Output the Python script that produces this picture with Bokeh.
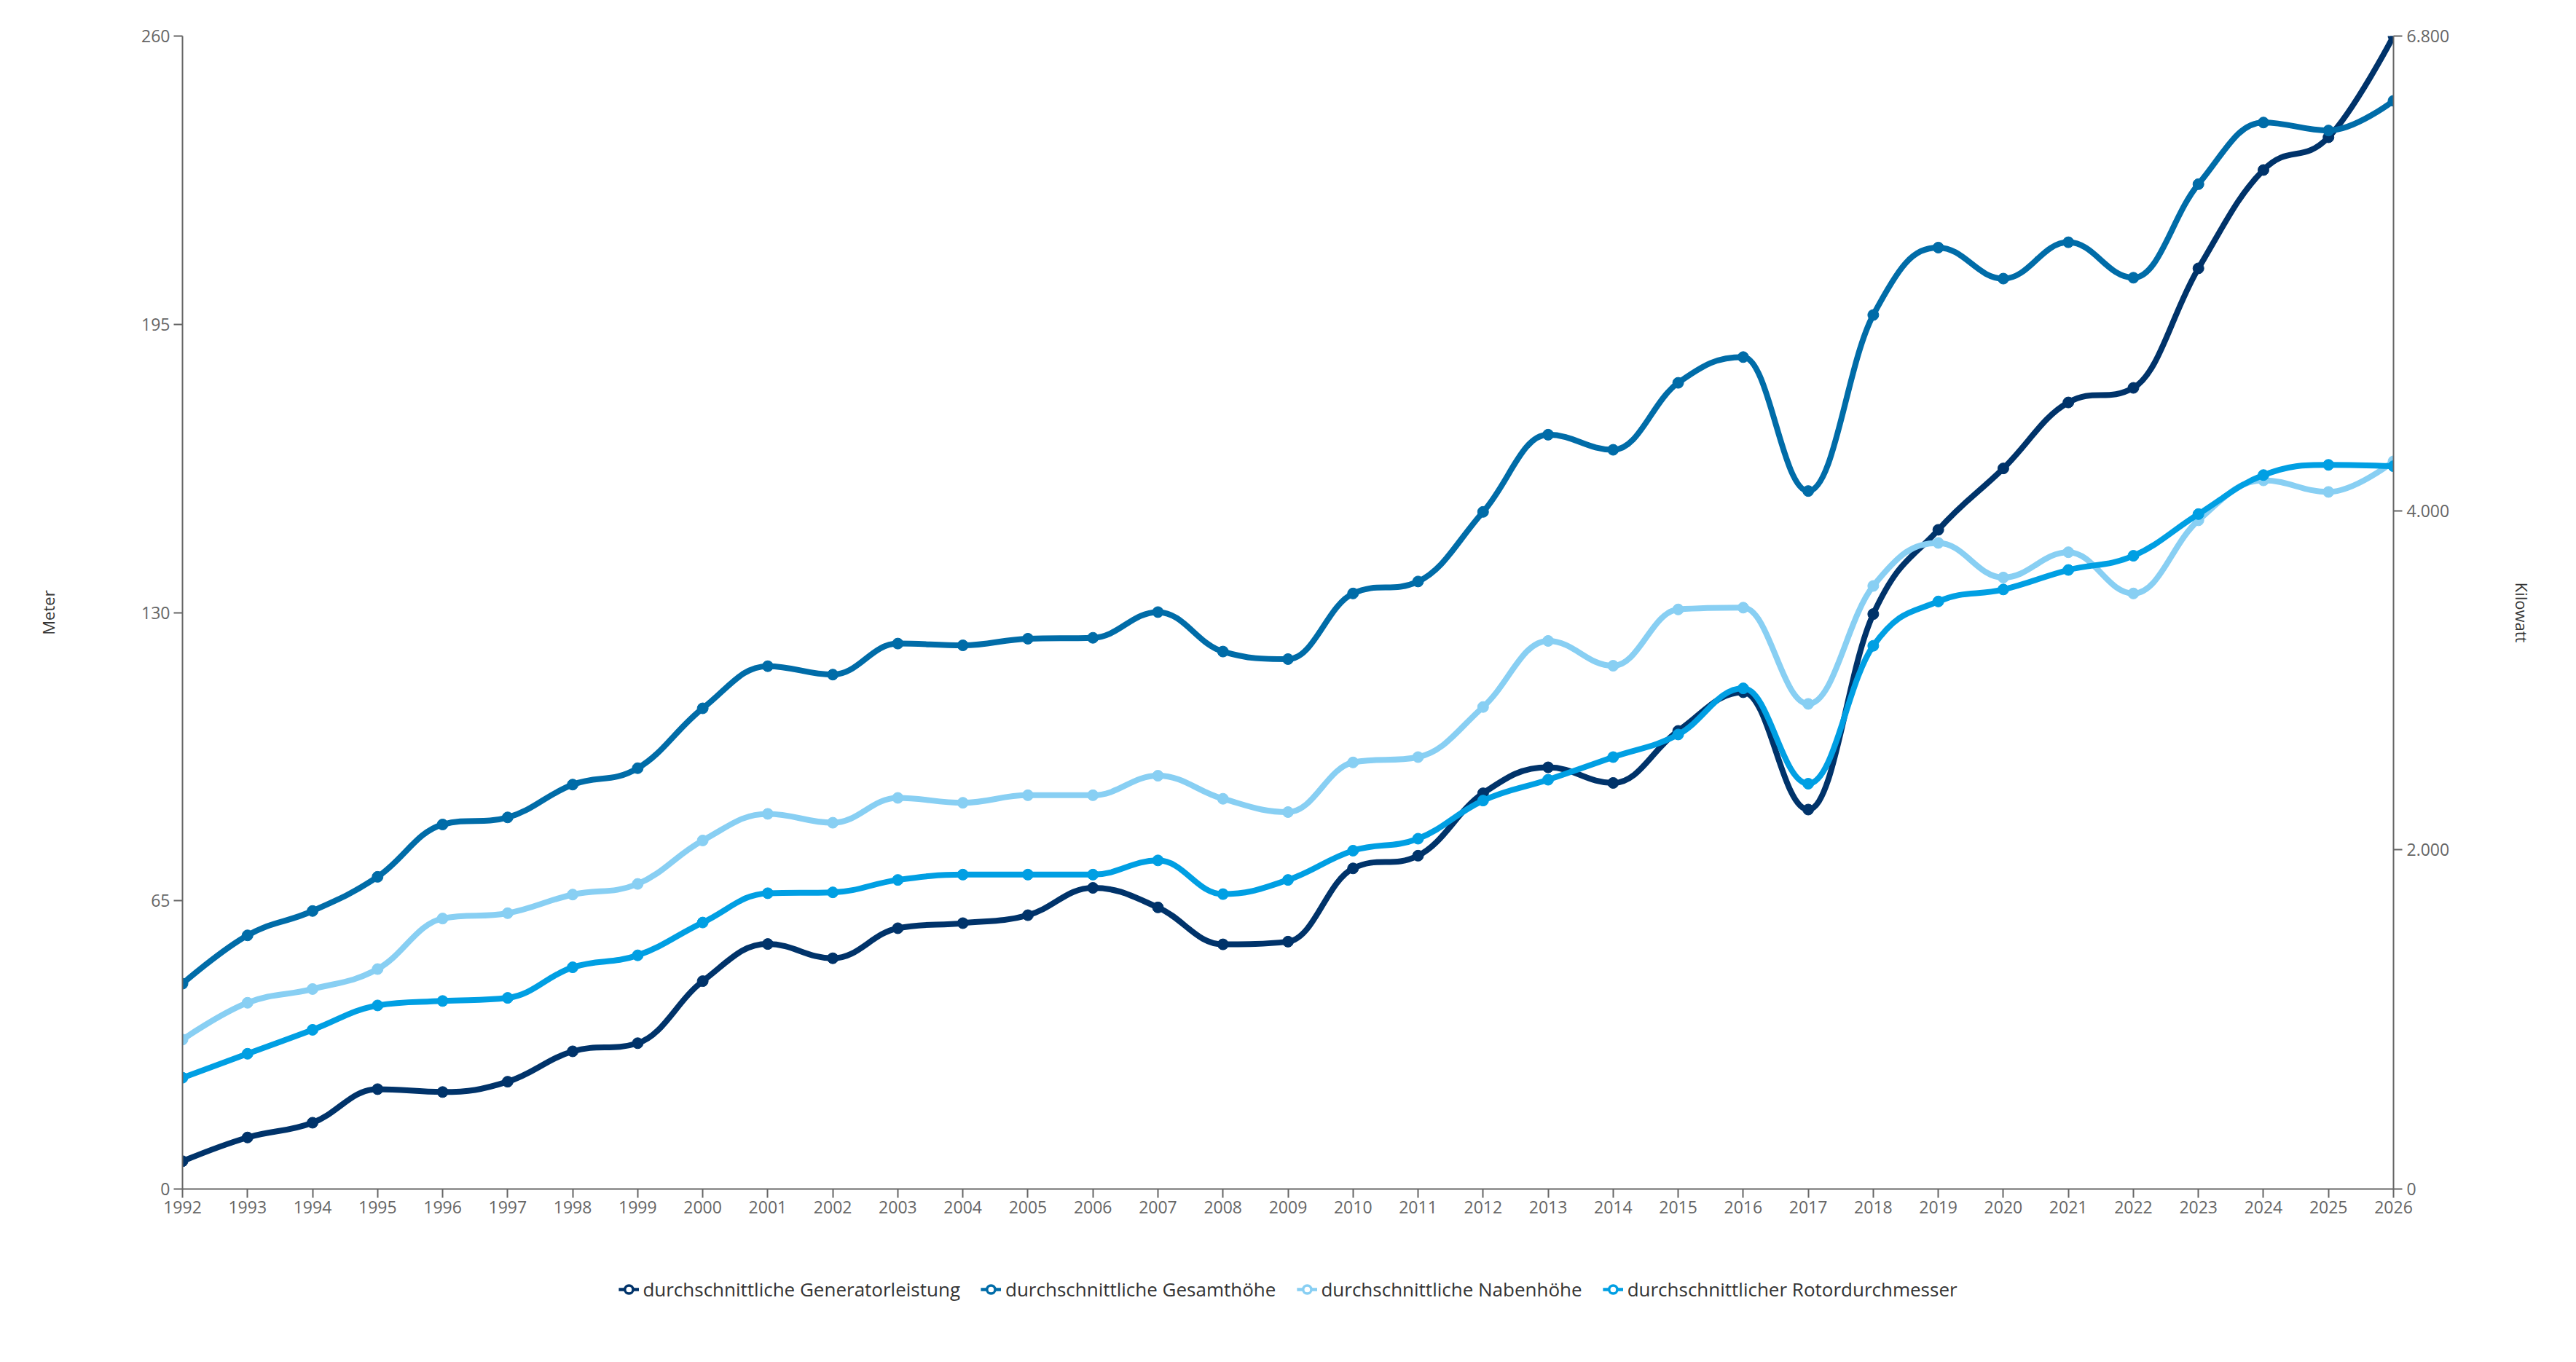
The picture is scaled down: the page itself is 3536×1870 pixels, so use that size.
from bokeh.plotting import figure
from bokeh.layouts import column
from bokeh.models import (LinearAxis, Range1d, FixedTicker, Legend, LegendItem,
                          ColumnDataSource)
from bokeh.embed import file_html
from bokeh.resources import INLINE

years = list(range(1992, 2027))

generatorleistung_kw = [164, 304, 391, 589, 572, 633, 812, 860, 1226, 1445, 1361, 1538,
                        1568, 1615, 1776, 1661, 1443, 1459, 1891, 1966, 2334, 2487, 2395,
                        2702, 2930, 2238, 3391, 3888, 4250, 4639, 4725, 5430, 6010, 6203, 6800]

gesamthoehe_m = [46.3, 57.2, 62.7, 70.4, 82.2, 83.8, 91.2, 94.9, 108.4, 117.9, 116.0, 123.0,
                 122.6, 124.1, 124.3, 130.1, 121.2, 119.5, 134.3, 137.0, 152.7, 170.1, 166.7,
                 181.8, 187.6, 157.4, 197.1, 212.3, 205.3, 213.5, 205.5, 226.6, 240.5, 238.7, 245.4]

nabenhoehe_m = [33.7, 42.0, 45.1, 49.6, 61.0, 62.2, 66.4, 68.8, 78.6, 84.6, 82.6, 88.2,
                87.1, 88.8, 88.8, 93.2, 88.0, 85.0, 96.2, 97.4, 108.7, 123.6, 118.0,
                130.7, 131.1, 109.4, 136.0, 145.7, 137.9, 143.6, 134.3, 150.8, 159.8, 157.2, 164.1]

rotordurchmesser_m = [25.1, 30.5, 35.9, 41.4, 42.4, 43.1, 50.0, 52.7, 60.1, 66.7, 66.9, 69.7,
                      70.9, 70.9, 70.9, 74.1, 66.5, 69.7, 76.3, 79.0, 87.6, 92.3, 97.4,
                      102.5, 112.9, 91.4, 122.5, 132.5, 135.2, 139.6, 142.8, 152.2, 161.0, 163.3, 163.0]

meter_ticks = [0, 65, 130, 195, 260]
kw_ticks = [0, 2000, 4000, 6800]
kw_tick_labels = {0: "0", 2000: "2.000", 4000: "4.000", 6800: "6.800"}

series = [
    ("durchschnittliche Generatorleistung", generatorleistung_kw, "#00336a", "kw"),
    ("durchschnittliche Gesamthöhe", gesamthoehe_m, "#006ca8", "default"),
    ("durchschnittliche Nabenhöhe", nabenhoehe_m, "#88cff3", "default"),
    ("durchschnittlicher Rotordurchmesser", rotordurchmesser_m, "#009fe3", "default"),
]

FONT = "Open Sans"


def spline(xs, ys, sm=1.5):
    n = len(xs)
    lcx, lcy = list(xs), list(ys)
    rcx, rcy = list(xs), list(ys)
    d = sm + 1.0
    for i in range(1, n - 1):
        lx, ly = xs[i - 1], ys[i - 1]
        nx, ny = xs[i + 1], ys[i + 1]
        px, py = xs[i], ys[i]
        Lx = (sm * px + lx) / d
        Ly = (sm * py + ly) / d
        Rx = (sm * px + nx) / d
        Ry = (sm * py + ny) / d
        corr = ((Ry - Ly) * (Rx - px)) / (Rx - Lx) + py - Ry
        Ly += corr
        Ry += corr
        if Ly > ly and Ly > py:
            Ly = max(ly, py)
            Ry = 2 * py - Ly
        elif Ly < ly and Ly < py:
            Ly = min(ly, py)
            Ry = 2 * py - Ly
        if Ry > ny and Ry > py:
            Ry = max(ny, py)
            Ly = 2 * py - Ry
        elif Ry < ny and Ry < py:
            Ry = min(ny, py)
            Ly = 2 * py - Ry
        lcx[i], lcy[i], rcx[i], rcy[i] = Lx, Ly, Rx, Ry
    return dict(x0=xs[:-1], y0=ys[:-1], x1=xs[1:], y1=ys[1:],
                cx0=rcx[:-1], cy0=rcy[:-1], cx1=lcx[1:], cy1=lcy[1:])


# ---------------- main chart ----------------
p = figure(width=3520, height=1692, output_backend="svg", toolbar_location=None,
           x_range=Range1d(1992, 2026), y_range=Range1d(0, 260),
           min_border_left=250, min_border_right=235, min_border_top=49,
           min_border_bottom=60, background_fill_color="white",
           border_fill_color="white")
p.extra_y_ranges = {"kw": Range1d(0, 6800)}
p.outline_line_color = None

p.xgrid.visible = False
p.ygrid.ticker = FixedTicker(ticks=[260])
p.ygrid.grid_line_color = "#eeeeee"
p.ygrid.grid_line_width = 2


def style_axis(ax):
    ax.axis_line_color = "#666666"
    ax.axis_line_width = 2
    ax.major_tick_line_color = "#666666"
    ax.major_tick_line_width = 2
    ax.major_tick_out = 12
    ax.major_tick_in = 0
    ax.minor_tick_line_color = None
    ax.major_label_text_font = FONT
    ax.major_label_text_font_size = "23px"
    ax.major_label_text_color = "#666666"
    ax.axis_label_text_font = FONT
    ax.axis_label_text_font_size = "22px"
    ax.axis_label_text_font_style = "normal"
    ax.axis_label_text_color = "#333333"


xa = p.xaxis[0]
xa.ticker = FixedTicker(ticks=years)
style_axis(xa)
xa.major_label_standoff = 4

ya = p.yaxis[0]
ya.ticker = FixedTicker(ticks=meter_ticks)
style_axis(ya)
ya.major_label_standoff = 5
ya.axis_label = "Meter"
ya.axis_label_standoff = 110

ra = LinearAxis(y_range_name="kw", ticker=FixedTicker(ticks=kw_ticks),
                major_label_overrides=kw_tick_labels, axis_label="Kilowatt")
style_axis(ra)
ra.major_label_standoff = 6
ra.axis_label_standoff = 82
p.add_layout(ra, "right")

# ---------------- legend strip ----------------
q = figure(width=3520, height=156, output_backend="svg", toolbar_location=None,
           x_range=Range1d(1992, 2026), y_range=Range1d(20000, 20001),
           x_axis_type=None, y_axis_type=None,
           min_border_left=0, min_border_right=0, min_border_top=0,
           min_border_bottom=0, background_fill_color="white",
           border_fill_color="white")
q.outline_line_color = None
q.grid.visible = False

items = []
for name, vals, color, rng in series:
    src_pts = ColumnDataSource(dict(x=years, y=vals))
    src_seg = ColumnDataSource(spline([float(v) for v in years], [float(v) for v in vals]))
    p.bezier(x0="x0", y0="y0", x1="x1", y1="y1", cx0="cx0", cy0="cy0",
             cx1="cx1", cy1="cy1", source=src_seg, line_color=color,
             line_width=8, line_cap="round", y_range_name=rng)
    p.scatter("x", "y", source=src_pts, size=15, fill_color=color,
              line_color=color, line_width=1, y_range_name=rng)
    # legend symbols (line + hollow marker), kept out of the legend strip's view
    lg_line = q.bezier(x0="x0", y0="y0", x1="x1", y1="y1", cx0="cx0", cy0="cy0",
                       cx1="cx1", cy1="cy1", source=src_seg, line_color=color,
                       line_width=4.5)
    lg_ring = q.scatter("x", "y", source=src_pts, size=11, fill_color="white",
                        line_color=color, line_width=3.5)
    items.append(LegendItem(label=name, renderers=[lg_line, lg_ring]))

legend = Legend(items=items, orientation="horizontal", location="center",
                label_text_font=FONT, label_text_font_size="26px",
                label_text_color="#333333", glyph_width=28, glyph_height=28,
                label_standoff=6, spacing=28, padding=0, margin=0,
                border_line_color=None, background_fill_color=None,
                background_fill_alpha=0)
q.add_layout(legend, "center")

layout = column(p, q, spacing=0)
open("out.html", "w").write(file_html(layout, INLINE))
